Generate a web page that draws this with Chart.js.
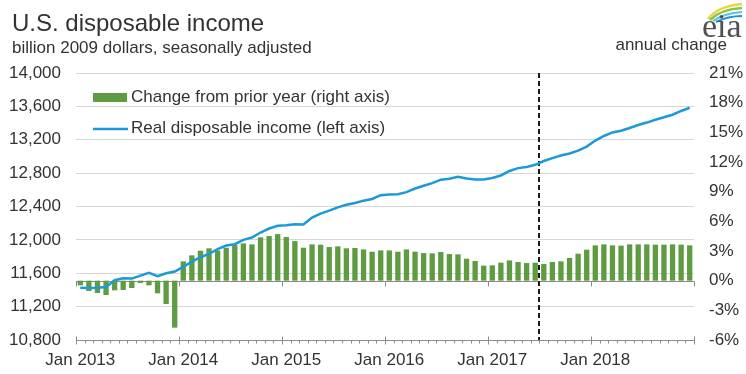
<!DOCTYPE html>
<html>
<head>
<meta charset="utf-8">
<title>U.S. disposable income</title>
<script src="https://cdn.jsdelivr.net/npm/chart.js@4.4.0/dist/chart.umd.min.js"></script>
<style>
  body { margin: 0; background: #fff; }
  #wrap { position: relative; width: 746px; height: 374px; font-family: "Liberation Sans", Arial, sans-serif; color: #333; }
  #mycanvas { position: absolute; left: 0; top: 0; }
  .lbl { position: absolute; line-height: 1; white-space: nowrap; }
  #title { left: 12px; top: 11px; font-size: 24px; }
  #subtitle { left: 12px; top: 39px; font-size: 17px; }
  #rightunit { right: 19px; top: 36px; font-size: 17px; }
  #logo { position: absolute; left: 690px; top: 0; }
</style>
</head>
<body>
<div id="wrap">
  <canvas id="mycanvas" width="746" height="374"></canvas>
  <div class="lbl" id="title">U.S. disposable income</div>
  <div class="lbl" id="subtitle">billion 2009 dollars, seasonally adjusted</div>
  <div class="lbl" id="rightunit">annual change</div>
  <svg id="logo" width="56" height="42" viewBox="0 0 56 42">
    <path d="M18 19 Q28 6 52 4" stroke="#e6d64a" stroke-width="2.5" fill="none"/>
    <path d="M20 20 Q31 9 52 8" stroke="#8cc540" stroke-width="2.5" fill="none"/>
    <path d="M23 21 Q35 13 52 12" stroke="#5cc1e9" stroke-width="2" fill="none"/>
    <path d="M26 22 Q38 16 52 16" stroke="#1f8fd0" stroke-width="2" fill="none"/>
    <text x="12" y="37" font-family="Liberation Serif, Times New Roman, serif" font-size="34" fill="#505050">eia</text>
  </svg>
</div>
<script>
var years = [2013, 2014, 2015, 2016, 2017, 2018];
var monthNames = ['Jan', 'Feb', 'Mar', 'Apr', 'May', 'Jun', 'Jul', 'Aug', 'Sep', 'Oct', 'Nov', 'Dec'];

// real disposable income, billion 2009 dollars (left axis)
var incomeLevel = [
  11427, 11424, 11427, 11435, 11516, 11540, 11536, 11572, 11604, 11564, 11600, 11620,
  11676, 11740, 11792, 11832, 11888, 11932, 11948, 12000, 12028, 12088, 12136, 12168,
  12176, 12188, 12184, 12267, 12315, 12350, 12390, 12420, 12442, 12470, 12490, 12536,
  12545, 12548, 12572, 12616, 12648, 12680, 12722, 12732, 12756, 12736, 12724, 12724,
  12742, 12772, 12826, 12860, 12873, 12900, 12945, 12980, 13012, 13036, 13070, 13118,
  13190, 13245, 13288, 13308, 13341, 13376, 13406, 13440, 13470, 13500, 13545, 13584
];

// percent change from the same month a year earlier (right axis)
var annualChange = [
  -0.47, -1.04, -1.25, -1.45, -0.98, -0.94, -0.74, -0.24, -0.47, -1.28, -2.36, -4.75,
  1.95, 2.56, 3.03, 3.27, 3.06, 3.33, 3.60, 3.77, 3.67, 4.38, 4.51, 4.71,
  4.41, 4.00, 3.33, 3.67, 3.64, 3.40, 3.47, 3.27, 3.30, 3.16, 2.93, 3.06,
  3.06, 2.93, 3.16, 2.93, 2.79, 2.76, 2.90, 2.69, 2.66, 2.22, 1.99, 1.52,
  1.55, 1.82, 2.05, 1.89, 1.78, 1.82, 1.68, 1.89, 1.95, 2.29, 2.73, 3.13,
  3.57, 3.67, 3.57, 3.54, 3.67, 3.67, 3.67, 3.64, 3.64, 3.67, 3.64, 3.57
];

var incomeTicks = [10800, 11200, 11600, 12000, 12400, 12800, 13200, 13600, 14000];
var changeTicks = [-6, -3, 0, 3, 6, 9, 12, 15, 18, 21];
var forecastStart = 'Jul 2017';

var months = [];
for (var y = 0; y < years.length; y++) {
  for (var m = 0; m < monthNames.length; m++) {
    months.push(monthNames[m] + ' ' + years[y]);
  }
}

var FONT = '"Liberation Sans", Arial, sans-serif';
var TEXT = '#333333';
var AXIS = '#8c8c8c';

// zero line, bottom axis tick marks and the forecast divider
var axisMarks = {
  id: 'axisMarks',
  beforeDatasetsDraw: function(chart) {
    var ctx = chart.ctx, a = chart.chartArea;
    var x = chart.scales.x, y1 = chart.scales.y1;
    var n = chart.data.labels.length;
    var step = x.getPixelForValue(1) - x.getPixelForValue(0);
    var first = x.getPixelForValue(0) - step / 2;
    var zeroY = Math.round(y1.getPixelForValue(0)) + 0.5;
    var baseY = Math.round(a.bottom) + 0.5;

    ctx.save();
    ctx.strokeStyle = AXIS;
    ctx.lineWidth = 1;
    ctx.beginPath();
    ctx.moveTo(a.left, zeroY); ctx.lineTo(a.right, zeroY);
    ctx.moveTo(a.left, baseY); ctx.lineTo(a.right, baseY);
    for (var i = 0; i <= n; i++) {
      var px = Math.round(first + i * step) + 0.5;
      if (i % 12 === 0) {
        ctx.moveTo(px, baseY - 4); ctx.lineTo(px, baseY + 4);
        ctx.moveTo(px, zeroY); ctx.lineTo(px, zeroY + 5);
      } else {
        ctx.moveTo(px, baseY); ctx.lineTo(px, baseY + 3);
      }
    }
    ctx.stroke();

    var k = chart.data.labels.indexOf(forecastStart);
    var fx = Math.round(first + k * step);
    ctx.strokeStyle = '#1a1a1a';
    ctx.lineWidth = 2;
    ctx.setLineDash([5, 3]);
    ctx.beginPath();
    ctx.moveTo(fx, a.top);
    ctx.lineTo(fx, a.bottom);
    ctx.stroke();
    ctx.restore();
  }
};

// legend box inside the plot area
var innerLegend = {
  id: 'innerLegend',
  afterDatasetsDraw: function(chart) {
    var ctx = chart.ctx, a = chart.chartArea;
    var ds = chart.data.datasets;
    var lx = a.left + 17, ty = a.top + 24;
    ctx.save();
    ctx.font = '17px ' + FONT;
    ctx.fillStyle = TEXT;
    ctx.textBaseline = 'middle';

    ctx.fillStyle = ds[1].backgroundColor;
    ctx.fillRect(lx, ty - 4, 34, 9);
    ctx.fillStyle = TEXT;
    ctx.fillText(ds[1].label, lx + 38, ty);

    ctx.strokeStyle = ds[0].borderColor;
    ctx.lineWidth = 2.5;
    ctx.beginPath();
    ctx.moveTo(lx, ty + 32);
    ctx.lineTo(lx + 35, ty + 32);
    ctx.stroke();
    ctx.fillText(ds[0].label, lx + 38, ty + 31);
    ctx.restore();
  }
};

var chartdata = {
  labels: months,
  datasets: [
    {
      type: 'line',
      label: 'Real disposable income (left axis)',
      data: incomeLevel,
      yAxisID: 'y',
      borderColor: '#1c9ad8',
      borderWidth: 2.5,
      pointRadius: 0,
      tension: 0,
      order: 0
    },
    {
      type: 'bar',
      label: 'Change from prior year (right axis)',
      data: annualChange,
      yAxisID: 'y1',
      backgroundColor: '#5e9b41',
      barPercentage: 0.62,
      categoryPercentage: 1,
      order: 1
    }
  ]
};

var ctx = document.getElementById('mycanvas');

var incomeChart = new Chart(ctx, {
  data: chartdata,
  plugins: [axisMarks, innerLegend],
  options: {
    responsive: false,
    animation: false,
    layout: { padding: { top: 73, left: 0, right: 0, bottom: 0 } },
    plugins: {
      legend: { display: false },
      tooltip: { enabled: false }
    },
    scales: {
      x: {
        type: 'category',
        offset: true,
        grid: { display: false, drawTicks: false },
        border: { display: false },
        ticks: {
          autoSkip: false,
          maxRotation: 0,
          padding: 10,
          color: TEXT,
          font: { family: FONT, size: 17 },
          callback: function(v, i) {
            return i % 12 === 0 ? this.getLabelForValue(v) : '';
          }
        },
        afterFit: function(s) { s.height = 34; }
      },
      y: {
        position: 'left',
        min: incomeTicks[0],
        max: incomeTicks[incomeTicks.length - 1],
        afterBuildTicks: function(s) {
          s.ticks = incomeTicks.map(function(v) { return { value: v }; });
        },
        grid: { color: '#d6d6d6', drawTicks: false },
        border: { display: false },
        ticks: {
          padding: 15,
          color: TEXT,
          font: { family: FONT, size: 17 },
          callback: function(v) { return v.toLocaleString('en-US'); }
        },
        afterFit: function(s) { s.width = 76; }
      },
      y1: {
        position: 'right',
        min: changeTicks[0],
        max: changeTicks[changeTicks.length - 1],
        afterBuildTicks: function(s) {
          s.ticks = changeTicks.map(function(v) { return { value: v }; });
        },
        grid: { display: false, drawTicks: false },
        border: { display: false },
        ticks: {
          padding: 15,
          color: TEXT,
          font: { family: FONT, size: 17 },
          callback: function(v) { return v + '%'; }
        },
        afterFit: function(s) { s.width = 52; }
      }
    }
  }
});
</script>
</body>
</html>
